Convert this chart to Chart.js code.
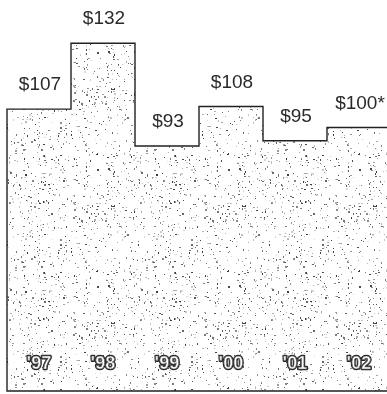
<!DOCTYPE html>
<html>
<head>
<meta charset="utf-8">
<script src="https://cdn.jsdelivr.net/npm/chart.js@4/dist/chart.umd.min.js"></script>
<style>
  html, body { margin: 0; padding: 0; background: #fff; overflow: hidden; }
  #wrap { width: 392px; height: 394px; position: relative; }
</style>
</head>
<body>
<div id="wrap"><canvas id="c"></canvas></div>
<script>
// Average price per year, in dollars
const years = ["'97", "'98", "'99", "'00", "'01", "'02"];
const prices = [107, 132, 93, 108, 95, 100];
// The 2002 figure is an estimate, marked with an asterisk
const estimated = [false, false, false, false, false, true];

const priceLabels = prices.map((v, i) => '$' + v + (estimated[i] ? '*' : ''));

// Stippled grain used to fill the area under the steps
function grainPattern() {
  const tile = document.createElement('canvas');
  tile.width = 131; tile.height = 117;
  const g = tile.getContext('2d');
  g.fillStyle = '#ffffff';
  g.fillRect(0, 0, tile.width, tile.height);
  let seed = 20021;
  const next = () => { seed = (seed * 1103515245 + 12345) % 2147483648; return seed / 2147483648; };
  for (let i = 0; i < 620; i++) {
    const x = Math.floor(next() * tile.width);
    const y = Math.floor(next() * tile.height);
    const shade = Math.floor(60 + next() * 170);
    g.fillStyle = `rgb(${shade},${shade},${shade})`;
    const w = next() < 0.25 ? 2 : 1;
    const h = next() < 0.25 ? 2 : 1;
    g.fillRect(x, y, w, h);
  }
  return g.createPattern(tile, 'repeat');
}

// Outline around the top of the stepped area, plus value and year labels
const stepDecor = {
  id: 'stepDecor',
  afterDatasetsDraw(chart) {
    const ctx = chart.ctx;
    const bars = chart.getDatasetMeta(0).data;
    const base = chart.scales.y.getPixelForValue(0);
    ctx.save();
    ctx.beginPath();
    const first = bars[0];
    ctx.moveTo(first.x - first.width / 2, base);
    bars.forEach(b => {
      ctx.lineTo(b.x - b.width / 2, b.y);
      ctx.lineTo(b.x + b.width / 2, b.y);
    });
    const last = bars[bars.length - 1];
    ctx.lineTo(last.x + last.width / 2, base);
    ctx.closePath();
    ctx.lineWidth = 1.4;
    ctx.strokeStyle = '#222';
    ctx.lineJoin = 'miter';
    ctx.stroke();

    ctx.textAlign = 'center';
    ctx.textBaseline = 'middle';
    ctx.font = '19px "Liberation Sans", Arial, sans-serif';
    ctx.fillStyle = '#2a2a2a';
    bars.forEach((b, i) => ctx.fillText(priceLabels[i], b.x + 1, b.y - 24));

    ctx.font = 'bold 18px "Liberation Sans", Arial, sans-serif';
    ctx.lineJoin = 'round';
    bars.forEach((b, i) => {
      ctx.lineWidth = 2.6;
      ctx.strokeStyle = '#222';
      ctx.strokeText(years[i], b.x, 364);
      ctx.fillStyle = '#ffffff';
      ctx.fillText(years[i], b.x, 364);
      ctx.lineWidth = 0.7;
      ctx.strokeStyle = '#666';
      ctx.strokeText(years[i], b.x, 364);
    });
    ctx.restore();
  }
};

new Chart(document.getElementById('c'), {
  type: 'bar',
  data: {
    labels: years,
    datasets: [{
      data: prices,
      backgroundColor: grainPattern(),
      borderWidth: 0,
      barPercentage: 1,
      categoryPercentage: 1
    }]
  },
  options: {
    responsive: true,
    maintainAspectRatio: false,
    animation: false,
    layout: { padding: { left: 7, right: 1, top: 0, bottom: 3 } },
    plugins: { legend: { display: false }, tooltip: { enabled: false } },
    scales: {
      x: { display: false },
      y: { display: false, min: 0, max: 148.4 }
    }
  },
  plugins: [stepDecor]
});
</script>
</body>
</html>
